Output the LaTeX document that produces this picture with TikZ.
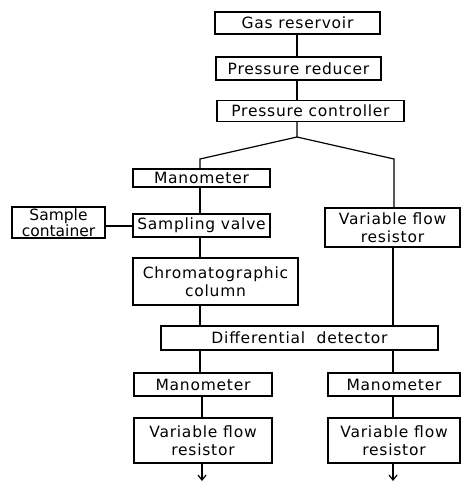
\documentclass[tikz,border=0pt]{standalone}
\usepackage{fontspec}
\setmainfont[LetterSpace=5]{DejaVu Sans}
\usetikzlibrary{arrows.meta}
\begin{document}
\begin{tikzpicture}[x=1pt,y=-1pt,
  box/.style={draw, line width=1.2pt, inner sep=0pt, align=center, font=\fontsize{15.5}{18}\selectfont},
  link/.style={line width=1.2pt},
  outlet/.style={line width=1.2pt, -{Straight Barb[length=5pt,width=8pt]}}]
\useasboundingbox (0,0) rectangle (462,486);
\node[box, minimum width=165, minimum height=22] (gr) at (297.5,23) {Gas reservoir};
\node[box, minimum width=165, minimum height=23] (pr) at (298.5,68.5) {Pressure reducer};
\node[box, minimum width=187, minimum height=21] (pc) at (310.5,111) {Pressure controller};
\node[box, minimum width=137, minimum height=18] (m1) at (201.5,178) {Manometer};
\node[box, minimum width=93, minimum height=31, font=\fontsize{15.5}{14.5}\selectfont\addfontfeature{LetterSpace=0}] (sc) at (58.5,222.5) {Sample\\container};
\node[box, minimum width=137, minimum height=23] (sv) at (201.5,225.5) {Sampling valve};
\node[box, minimum width=135, minimum height=39] (vr1) at (392.5,227.5) {Variable flow\\resistor};
\node[box, minimum width=165, minimum height=47] (cc) at (215.5,281.5) {Chromatographic\\column};
\node[box, minimum width=277, minimum height=24] (dd) at (299.5,338) {Differential\ \ detector};
\node[box, minimum width=138, minimum height=23] (m2) at (203,384.5) {Manometer};
\node[box, minimum width=132, minimum height=23] (m3) at (394,384.5) {Manometer};
\node[box, minimum width=138, minimum height=45] (vr2) at (203,440.5) {Variable flow\\resistor};
\node[box, minimum width=132, minimum height=45] (vr3) at (394,440.5) {Variable flow\\resistor};
\coordinate (jn) at (297,137);
\coordinate (jl) at (200,159);
\coordinate (jr) at (394,159);
\coordinate (xl) at (200,0);
\coordinate (xr) at (393,0);
\coordinate (ys) at (0,226);
\coordinate (o2) at (202,481);
\coordinate (o3) at (393,481);
\draw[link] (gr.south -| jn) -- (pr.north -| jn);
\draw[link] (pr.south -| jn) -- (pc.north -| jn);
\draw[link] (pc.south -| jn) -- (jn) -- (jl) -- (m1.north -| jl);
\draw[link] (jn) -- (jr) -- (vr1.north -| jr);
\draw[link] (m1.south -| xl) -- (sv.north -| xl);
\draw[link] (sc.east |- ys) -- (sv.west |- ys);
\draw[link] (sv.south -| xl) -- (cc.north -| xl);
\draw[link] (cc.south -| xl) -- (dd.north -| xl);
\draw[link] (vr1.south -| xr) -- (dd.north -| xr);
\draw[link] (dd.south -| xl) -- (m2.north -| xl);
\draw[link] (dd.south -| xr) -- (m3.north -| xr);
\draw[link] (m2.south -| o2) -- (vr2.north -| o2);
\draw[link] (m3.south -| o3) -- (vr3.north -| o3);
\draw[outlet] (vr2.south -| o2) -- (o2);
\draw[outlet] (vr3.south -| o3) -- (o3);
\end{tikzpicture}
\end{document}
